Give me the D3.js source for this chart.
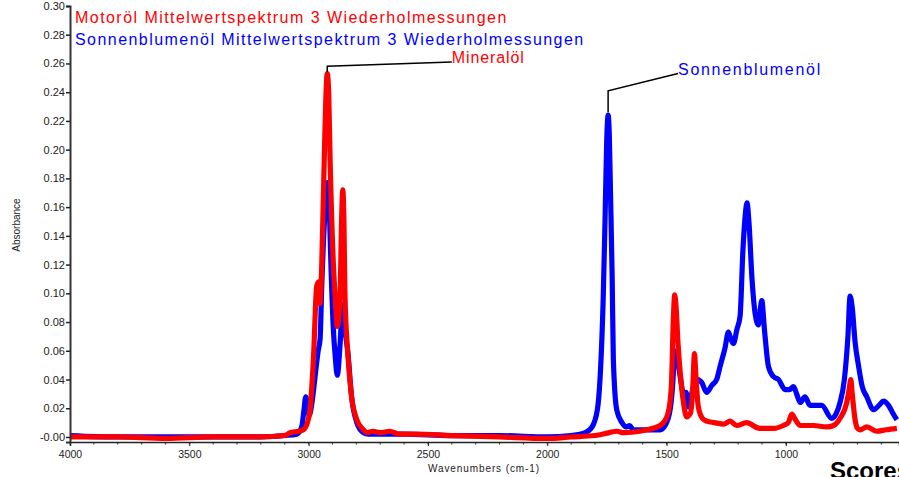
<!DOCTYPE html>
<html>
<head>
<meta charset="utf-8">
<script src="https://cdn.jsdelivr.net/npm/d3@7"></script>
<style>
  body { margin: 0; background: #fff; overflow: hidden; }
  svg { font-family: "Liberation Sans", Arial, sans-serif; display: block; }
</style>
</head>
<body>
<script>
const WIDTH = 899;
const HEIGHT = 477;

// Motoröl (red) : wavenumber / absorbance
const motorWn = [4000, 3800, 3600, 3400, 3200, 3100, 3078, 3040, 3022, 3005, 2994, 2980, 2966, 2958, 2952, 2945, 2935, 2928, 2922, 2916, 2910, 2897, 2888, 2880, 2868, 2862, 2857, 2852, 2848, 2834, 2820, 2798, 2770, 2757, 2730, 2700, 2660, 2620, 2550, 2400, 2200, 2000, 1900, 1800, 1740, 1709, 1680, 1611, 1583, 1527, 1514, 1493, 1480, 1472, 1466, 1460, 1452, 1443, 1430, 1416, 1399, 1390, 1383, 1378, 1367, 1350, 1332, 1300, 1260, 1234, 1206, 1165, 1110, 1050, 1011, 990, 975, 960, 940, 885, 829, 800, 773, 745, 735, 728, 722, 710, 700, 689, 661, 619, 580, 535];
const motorAbs = [0.000, 0.000, -0.001, 0.000, 0.000, 0.001, 0.003, 0.004, 0.005, 0.010, 0.019, 0.054, 0.105, 0.108, 0.093, 0.120, 0.190, 0.235, 0.253, 0.240, 0.193, 0.123, 0.095, 0.077, 0.100, 0.150, 0.172, 0.150, 0.100, 0.054, 0.028, 0.012, 0.005, 0.003, 0.004, 0.003, 0.004, 0.002, 0.002, 0.001, 0.000, -0.001, 0.000, 0.001, 0.003, 0.004, 0.003, 0.004, 0.005, 0.008, 0.010, 0.017, 0.035, 0.080, 0.099, 0.090, 0.065, 0.045, 0.025, 0.014, 0.017, 0.035, 0.058, 0.045, 0.021, 0.013, 0.011, 0.010, 0.009, 0.011, 0.008, 0.010, 0.006, 0.006, 0.008, 0.010, 0.016, 0.012, 0.008, 0.008, 0.007, 0.008, 0.013, 0.024, 0.033, 0.040, 0.030, 0.012, 0.006, 0.005, 0.007, 0.004, 0.005, 0.006];

// Sonnenblumenöl (blue) : wavenumber / absorbance
const sunWn = [4000, 3800, 3600, 3400, 3200, 3100, 3050, 3029, 3020, 3012, 3005, 2998, 2985, 2973, 2960, 2952, 2945, 2931, 2920, 2914, 2910, 2897, 2888, 2880, 2868, 2858, 2848, 2835, 2820, 2798, 2770, 2750, 2600, 2400, 2200, 2000, 1900, 1841, 1812, 1790, 1779, 1765, 1758, 1751, 1745, 1740, 1735, 1728, 1723, 1709, 1687, 1668, 1655, 1640, 1600, 1527, 1506, 1485, 1475, 1466, 1458, 1450, 1443, 1425, 1418, 1410, 1398, 1385, 1370, 1353, 1332, 1310, 1290, 1276, 1255, 1241, 1230, 1220, 1205, 1192, 1180, 1170, 1163, 1155, 1142, 1129, 1115, 1108, 1101, 1090, 1073, 1052, 1031, 1003, 985, 968, 955, 940, 920, 899, 850, 808, 790, 773, 755, 740, 731, 722, 710, 696, 680, 661, 633, 610, 591, 570, 550, 535];
const sunAbs = [0.001, 0.000, 0.000, 0.000, 0.000, 0.001, 0.002, 0.007, 0.018, 0.028, 0.022, 0.015, 0.025, 0.042, 0.060, 0.068, 0.105, 0.158, 0.177, 0.165, 0.140, 0.077, 0.055, 0.043, 0.065, 0.092, 0.075, 0.058, 0.028, 0.010, 0.003, 0.002, 0.002, 0.001, 0.001, 0.000, 0.001, 0.003, 0.007, 0.019, 0.040, 0.100, 0.150, 0.205, 0.224, 0.210, 0.170, 0.111, 0.054, 0.019, 0.010, 0.007, 0.008, 0.005, 0.005, 0.005, 0.008, 0.019, 0.035, 0.058, 0.060, 0.050, 0.042, 0.028, 0.031, 0.021, 0.028, 0.036, 0.040, 0.038, 0.031, 0.036, 0.040, 0.049, 0.062, 0.073, 0.068, 0.065, 0.075, 0.084, 0.130, 0.155, 0.163, 0.150, 0.110, 0.086, 0.078, 0.088, 0.095, 0.075, 0.049, 0.042, 0.040, 0.033, 0.033, 0.035, 0.030, 0.024, 0.028, 0.022, 0.022, 0.013, 0.016, 0.024, 0.040, 0.070, 0.098, 0.090, 0.066, 0.050, 0.035, 0.028, 0.019, 0.022, 0.025, 0.022, 0.016, 0.012];

const xMajorTicks = [4000, 3500, 3000, 2500, 2000, 1500, 1000];
const xMinorTicks = d3.range(4000, 500, -100);
const yTicks = [0, 0.02, 0.04, 0.06, 0.08, 0.10, 0.12, 0.14, 0.16, 0.18, 0.20, 0.22, 0.24, 0.26, 0.28, 0.30];
const yTickLabels = ["-0.00", "0.02", "0.04", "0.06", "0.08", "0.10", "0.12", "0.14", "0.16", "0.18", "0.20", "0.22", "0.24", "0.26", "0.28", "0.30"];

const seriesNames = ["Motoröl Mittelwertspektrum 3 Wiederholmessungen", "Sonnenblumenöl Mittelwertspektrum 3 Wiederholmessungen"];
const peakLabels = ["Mineralöl", "Sonnenblumenöl"];
// peak wavenumber, peak top, elbow, text anchor (wn, abs)
const peakWn = [2922, 1745];
const peakTop = [0.254, 0.226];
const elbowAbs = [0.258, 0.241];
const textWn = [2400, 1452];
const textAbs = [0.261, 0.253];

const svg = d3.select('body')
  .append('svg')
  .attr('width', WIDTH)
  .attr('height', HEIGHT);

const x = d3.scaleLinear().domain([4000, 526]).range([70, 899]);
const y = d3.scaleLinear().domain([-0.0035, 0.30]).range([442, 6]);

const line = d3.line()
  .x(d => x(d[0]))
  .y(d => y(d[1]))
  .curve(d3.curveMonotoneX);

const sunData = sunWn.map((w, i) => [w, sunAbs[i]]);
const motorData = motorWn.map((w, i) => [w, motorAbs[i]]);

svg.append('path')
  .datum(sunData)
  .attr('d', line)
  .attr('fill', 'none')
  .attr('stroke', '#0000ff')
  .attr('stroke-width', 5.2)
  .attr('stroke-linejoin', 'round');

svg.append('path')
  .datum(motorData)
  .attr('d', line)
  .attr('fill', 'none')
  .attr('stroke', '#ff0000')
  .attr('stroke-width', 5.2)
  .attr('stroke-linejoin', 'round');

// axes
const xAxis = svg.append('g')
  .attr('transform', `translate(0, ${y.range()[0]})`)
  .call(d3.axisBottom(x).tickValues(xMajorTicks).tickSize(4).tickFormat(d3.format('d')));
xAxis.select('.domain').attr('stroke', '#222').attr('stroke-width', 1.5);
xAxis.selectAll('.tick line').attr('stroke', '#222');
xAxis.selectAll('.tick text')
  .attr('font-size', 10.5)
  .attr('fill', '#222')
  .attr('dy', '0.85em');

svg.append('g')
  .selectAll('line')
  .data(xMinorTicks)
  .enter().append('line')
  .attr('x1', d => x(d)).attr('x2', d => x(d))
  .attr('y1', y.range()[0]).attr('y2', y.range()[0] + 2.5)
  .attr('stroke', '#222');

const yAxis = svg.append('g')
  .attr('transform', `translate(${x.range()[0]}, 0)`)
  .call(d3.axisLeft(y).tickValues(yTicks).tickSize(4).tickFormat((d, i) => yTickLabels[i]));
yAxis.select('.domain').attr('stroke', '#333').attr('stroke-width', 2);
yAxis.selectAll('.tick line').attr('stroke', '#222').attr('stroke-width', 1.5);
yAxis.selectAll('.tick text')
  .attr('font-size', 11)
  .attr('fill', '#222')
  .attr('x', -5);

svg.append('text')
  .attr('x', 484)
  .attr('y', 472)
  .attr('text-anchor', 'middle')
  .attr('font-size', 10)
  .attr('letter-spacing', 0.9)
  .attr('fill', '#222')
  .text('Wavenumbers (cm-1)');

svg.append('text')
  .attr('transform', 'translate(20, 225) rotate(-90)')
  .attr('text-anchor', 'middle')
  .attr('font-size', 10)
  .attr('fill', '#222')
  .text('Absorbance');

// legend
const legendColors = ['#ff0000', '#0000ff'];
svg.selectAll('text.legend')
  .data(seriesNames)
  .enter().append('text')
  .classed('legend', true)
  .attr('x', 75)
  .attr('y', (d, i) => 23 + i * 22)
  .attr('font-size', 16)
  .attr('letter-spacing', 1.45)
  .attr('fill', (d, i) => legendColors[i])
  .text(d => d);

// peak annotations
const labelSpacing = [0.9, 1.7];
peakLabels.forEach((label, i) => {
  const px = x(peakWn[i]);
  svg.append('polyline')
    .attr('points', `${px},${y(peakTop[i])} ${px},${y(elbowAbs[i])} ${x(textWn[i])},${y(textAbs[i])}`)
    .attr('fill', 'none')
    .attr('stroke', '#000')
    .attr('stroke-width', 1.5);
  svg.append('text')
    .attr('x', x(textWn[i]))
    .attr('y', y(textAbs[i]) + 1)
    .attr('font-size', 16)
    .attr('letter-spacing', labelSpacing[i])
    .attr('fill', legendColors[i])
    .text(label);
});

svg.append('text')
  .attr('x', 830)
  .attr('y', 479)
  .attr('font-size', 24)
  .attr('font-weight', 'bold')
  .attr('fill', '#000')
  .text('Scores');
</script>
</body>
</html>
